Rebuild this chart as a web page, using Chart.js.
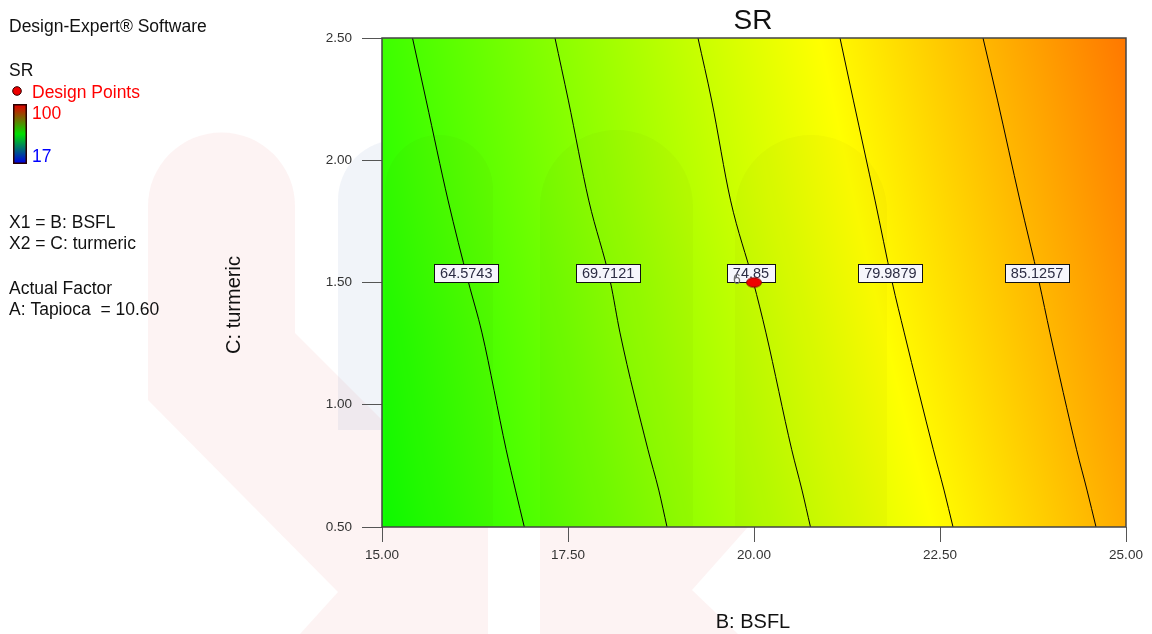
<!DOCTYPE html>
<html>
<head>
<meta charset="utf-8">
<title>SR contour</title>
<script src="https://cdn.jsdelivr.net/npm/chart.js@4.4.1/dist/chart.umd.min.js"></script>
<style>
  html, body { margin: 0; padding: 0; background: #fff; overflow: hidden; }
  #wrap { position: relative; width: 1152px; height: 634px; }
</style>
</head>
<body>
<div id="wrap"><canvas id="c" width="1152" height="634"></canvas></div>
<script>
// SR contour levels and the BSFL value of each contour at a set of turmeric levels
const levels = [64.5743, 69.7121, 74.85, 79.9879, 85.1257];
const turmericSteps = [2.5, 2.246, 1.837, 1.5, 1.294, 0.816, 0.651, 0.5];
const contour1 = [15.410, 15.593, 15.887, 16.163, 16.344, 16.669, 16.794, 16.913];
const contour2 = [17.325, 17.504, 17.778, 18.071, 18.199, 18.575, 18.720, 18.831];
const contour3 = [19.247, 19.430, 19.684, 19.993, 20.161, 20.507, 20.645, 20.759];
const contour4 = [21.156, 21.335, 21.626, 21.858, 22.020, 22.411, 22.554, 22.675];
const contour5 = [23.078, 23.273, 23.573, 23.833, 23.978, 24.336, 24.476, 24.597];
const contourBSFL = [contour1, contour2, contour3, contour4, contour5];

// design point (centre point, 6 replicates)
const designBSFL = [20.0];
const designTurmeric = [1.5];
const designCount = ['6'];

const xTicks = [15.0, 17.5, 20.0, 22.5, 25.0];
const yTicks = [0.5, 1.0, 1.5, 2.0, 2.5];
const labelTurmeric = 1.537;
const colorRange = [17, 100];

const FONT = '"Liberation Sans", Arial, sans-serif';

// linear interpolation of BSFL along one contour at turmeric value c (with end extrapolation)
function bsflAt(row, c) {
  const cs = turmericSteps;
  let k = 0;
  while (k < cs.length - 2 && c < cs[k + 1]) k++;
  const t = (c - cs[k]) / (cs[k + 1] - cs[k]);
  return row[k] + t * (row[k + 1] - row[k]);
}

// response value at pixel px from the contour crossings pos (ascending pixels)
function levelAt(px, pos) {
  const n = pos.length;
  let k = 0;
  if (px <= pos[0]) k = 0;
  else if (px >= pos[n - 1]) k = n - 2;
  else { while (k < n - 2 && px > pos[k + 1]) k++; }
  const t = (px - pos[k]) / (pos[k + 1] - pos[k]);
  return levels[k] + t * (levels[k + 1] - levels[k]);
}

// blue - cyan - green - yellow - red scale over the response range
function colorFor(v) {
  let t = (v - colorRange[0]) / (colorRange[1] - colorRange[0]);
  t = Math.max(0, Math.min(1, t));
  if (t < 0.25) return [0, Math.round(255 * t / 0.25), 255];
  if (t < 0.5) return [0, 255, Math.round(255 * (1 - (t - 0.25) / 0.25))];
  if (t < 0.75) return [Math.round(255 * (t - 0.5) / 0.25), 255, 0];
  return [255, Math.round(255 * (1 - (t - 0.75) / 0.25)), 0];
}

// faint background logo behind the page
const watermarkPlugin = {
  id: 'watermark',
  beforeDraw(chart) {
    const ctx = chart.ctx;
    ctx.save();
    ctx.fillStyle = '#ffffff';
    ctx.fillRect(0, 0, chart.width, chart.height);
    ctx.fillStyle = 'rgba(238,140,140,0.10)';
    ctx.beginPath();
    ctx.moveTo(148, 206);
    ctx.arc(221.5, 206, 73.5, Math.PI, 0);
    ctx.lineTo(295, 333);
    ctx.lineTo(488, 526);
    ctx.lineTo(488, 634);
    ctx.lineTo(300, 634);
    ctx.lineTo(338, 592);
    ctx.lineTo(148, 400);
    ctx.closePath();
    ctx.fill();
    ctx.beginPath();
    ctx.moveTo(540, 527);
    ctx.lineTo(748, 527);
    ctx.lineTo(692, 590);
    ctx.lineTo(738, 634);
    ctx.lineTo(540, 634);
    ctx.closePath();
    ctx.fill();
    ctx.fillStyle = 'rgba(120,150,200,0.10)';
    ctx.beginPath();
    ctx.moveTo(338, 430);
    ctx.lineTo(338, 200);
    ctx.arc(398, 200, 60, Math.PI, 1.5 * Math.PI);
    ctx.lineTo(420, 140);
    ctx.lineTo(420, 430);
    ctx.closePath();
    ctx.fill();
    ctx.restore();
  }
};

// coloured response surface filling the plot area
const fieldPlugin = {
  id: 'field',
  beforeDatasetsDraw(chart) {
    const { ctx, chartArea: a, scales: { x, y } } = chart;
    const w = Math.round(a.right - a.left), h = Math.round(a.bottom - a.top);
    const off = document.createElement('canvas');
    off.width = w; off.height = h;
    const octx = off.getContext('2d');
    const img = octx.createImageData(w, h);
    for (let j = 0; j < h; j++) {
      const c = y.getValueForPixel(a.top + j + 0.5);
      const pos = contourBSFL.map(row => x.getPixelForValue(bsflAt(row, c)) - a.left);
      for (let i = 0; i < w; i++) {
        const col = colorFor(levelAt(i + 0.5, pos));
        const p = (j * w + i) * 4;
        img.data[p] = col[0]; img.data[p + 1] = col[1]; img.data[p + 2] = col[2]; img.data[p + 3] = 255;
      }
    }
    octx.putImageData(img, 0, 0);
    ctx.save();
    ctx.drawImage(off, a.left, a.top);
    // faint logo columns showing through the surface
    ctx.fillStyle = 'rgba(70,20,0,0.028)';
    [[385, 493, 135], [540, 693, 130], [735, 887, 135]].forEach(([l, r, t]) => {
      const rad = (r - l) / 2;
      ctx.beginPath();
      ctx.moveTo(l, a.bottom);
      ctx.lineTo(l, t + rad);
      ctx.arc((l + r) / 2, t + rad, rad, Math.PI, 0);
      ctx.lineTo(r, a.bottom);
      ctx.closePath();
      ctx.fill();
    });
    ctx.restore();
    chart.$contoursDrawn = 0;
  },
  afterDatasetDraw(chart, args) {
    if (args.index >= contourBSFL.length) return;
    chart.$contoursDrawn = (chart.$contoursDrawn || 0) + 1;
    if (chart.$contoursDrawn !== contourBSFL.length) return;
    // contour value boxes, drawn over the lines
    const { ctx, scales: { x, y } } = chart;
    ctx.save();
    ctx.font = '14.5px ' + FONT;
    ctx.textAlign = 'center';
    ctx.textBaseline = 'middle';
    const py = y.getPixelForValue(labelTurmeric);
    levels.forEach((lv, i) => {
      const px = x.getPixelForValue(bsflAt(contourBSFL[i], labelTurmeric));
      const txt = String(lv);
      const bw = Math.round(ctx.measureText(txt).width + 12);
      const bh = 18;
      const bx = Math.round(px - bw / 2) + 0.5, by = Math.round(py - bh / 2) + 0.5;
      ctx.fillStyle = '#f6f6fc';
      ctx.fillRect(bx, by, bw, bh);
      ctx.strokeStyle = '#111';
      ctx.lineWidth = 1;
      ctx.strokeRect(bx, by, bw, bh);
      ctx.fillStyle = '#2c2c44';
      ctx.fillText(txt, px, py + 1);
    });
    ctx.restore();
  },
  afterDatasetsDraw(chart) {
    const { ctx, chartArea: a, scales: { x, y } } = chart;
    ctx.save();
    // replicate count beside the design point
    ctx.font = '14px ' + FONT;
    ctx.fillStyle = '#707070';
    ctx.textAlign = 'center';
    ctx.textBaseline = 'middle';
    designBSFL.forEach((b, i) => {
      ctx.fillText(designCount[i], x.getPixelForValue(b) - 17, y.getPixelForValue(designTurmeric[i]) - 2);
    });
    // plot frame
    ctx.strokeStyle = '#444';
    ctx.lineWidth = 1.5;
    ctx.strokeRect(a.left, a.top, a.right - a.left, a.bottom - a.top);
    ctx.restore();
  }
};

// titles and the side notes
const textPlugin = {
  id: 'texts',
  afterDraw(chart) {
    const { ctx, chartArea: a } = chart;
    ctx.save();
    ctx.textBaseline = 'alphabetic';
    ctx.fillStyle = '#111';
    ctx.textAlign = 'center';
    ctx.font = '28px ' + FONT;
    ctx.fillText('SR', (a.left + a.right) / 2 - 1, 29);
    ctx.font = '20px ' + FONT;
    ctx.fillText('B: BSFL', (a.left + a.right) / 2 - 1, 628);
    ctx.save();
    ctx.translate(240, 305);
    ctx.rotate(-Math.PI / 2);
    ctx.fillText('C: turmeric', 0, 0);
    ctx.restore();

    ctx.textAlign = 'left';
    ctx.font = '17.5px ' + FONT;
    ctx.fillStyle = '#111';
    ctx.fillText('Design-Expert\u00AE Software', 9, 32);
    ctx.fillText('SR', 9, 76);
    ctx.fillStyle = '#ff0000';
    ctx.fillText('Design Points', 32, 98);
    ctx.fillText('100', 32, 119);
    ctx.fillStyle = '#0000ff';
    ctx.fillText('17', 32, 162);
    ctx.fillStyle = '#111';
    ctx.fillText('X1 = B: BSFL', 9, 228);
    ctx.fillText('X2 = C: turmeric', 9, 249);
    ctx.fillText('Actual Factor', 9, 294);
    ctx.fillText('A: Tapioca  = 10.60', 9, 315);

    // design point marker in the key
    ctx.beginPath();
    ctx.arc(17, 91, 4.3, 0, Math.PI * 2);
    ctx.fillStyle = '#ee0000';
    ctx.fill();
    ctx.strokeStyle = '#300';
    ctx.lineWidth = 1;
    ctx.stroke();

    // colour key bar
    const g = ctx.createLinearGradient(0, 105, 0, 163);
    g.addColorStop(0, '#e00000');
    g.addColorStop(0.5, '#00e000');
    g.addColorStop(1, '#0000e0');
    ctx.fillStyle = g;
    ctx.fillRect(14, 105, 12, 58);
    ctx.strokeStyle = '#2a0000';
    ctx.lineWidth = 1.5;
    ctx.strokeRect(13.75, 104.75, 12.5, 58.5);
    ctx.restore();
  }
};

// red ellipse used for the design point
const designMarker = (() => {
  const cv = document.createElement('canvas');
  cv.width = 18; cv.height = 12;
  const c = cv.getContext('2d');
  c.beginPath();
  c.ellipse(9, 6, 7.5, 4.7, 0, 0, Math.PI * 2);
  c.fillStyle = '#ee0000';
  c.fill();
  c.strokeStyle = '#8a0000';
  c.lineWidth = 1;
  c.stroke();
  return cv;
})();

const datasets = contourBSFL.map((row, i) => ({
  label: String(levels[i]),
  data: turmericSteps.map((c, k) => ({ x: row[k], y: c })),
  showLine: true,
  borderColor: '#000',
  borderWidth: 1,
  pointRadius: 0,
  fill: false,
  cubicInterpolationMode: 'monotone',
  order: 1
}));
datasets.push({
  label: 'Design Points',
  data: designBSFL.map((b, i) => ({ x: b, y: designTurmeric[i] })),
  pointStyle: designMarker,
  pointRadius: 8,
  showLine: false,
  order: 0
});

const tickFont = { family: FONT, size: 13.5 };

new Chart(document.getElementById('c'), {
  type: 'scatter',
  data: { datasets },
  plugins: [watermarkPlugin, fieldPlugin, textPlugin],
  options: {
    responsive: false,
    animation: false,
    devicePixelRatio: 1,
    layout: { padding: { top: 38, right: 26, left: 0, bottom: 0 } },
    plugins: { legend: { display: false }, tooltip: { enabled: false }, title: { display: false } },
    scales: {
      x: {
        type: 'linear', min: 15, max: 25,
        afterBuildTicks: s => { s.ticks = xTicks.map(v => ({ value: v })); },
        afterFit: s => { s.height = 107; },
        ticks: { callback: v => Number(v).toFixed(2), font: tickFont, color: '#333', padding: 5, maxRotation: 0, autoSkip: false },
        grid: { drawOnChartArea: false, drawTicks: true, tickLength: 15, color: '#555', tickColor: '#555', lineWidth: 1 },
        border: { display: false }
      },
      y: {
        type: 'linear', min: 0.5, max: 2.5,
        afterBuildTicks: s => { s.ticks = yTicks.map(v => ({ value: v })); },
        afterFit: s => { s.width = 382; },
        ticks: { callback: v => Number(v).toFixed(2), font: tickFont, color: '#333', padding: 10, autoSkip: false },
        grid: { drawOnChartArea: false, drawTicks: true, tickLength: 20, color: '#555', tickColor: '#555', lineWidth: 1 },
        border: { display: false }
      }
    }
  }
});
</script>
</body>
</html>
